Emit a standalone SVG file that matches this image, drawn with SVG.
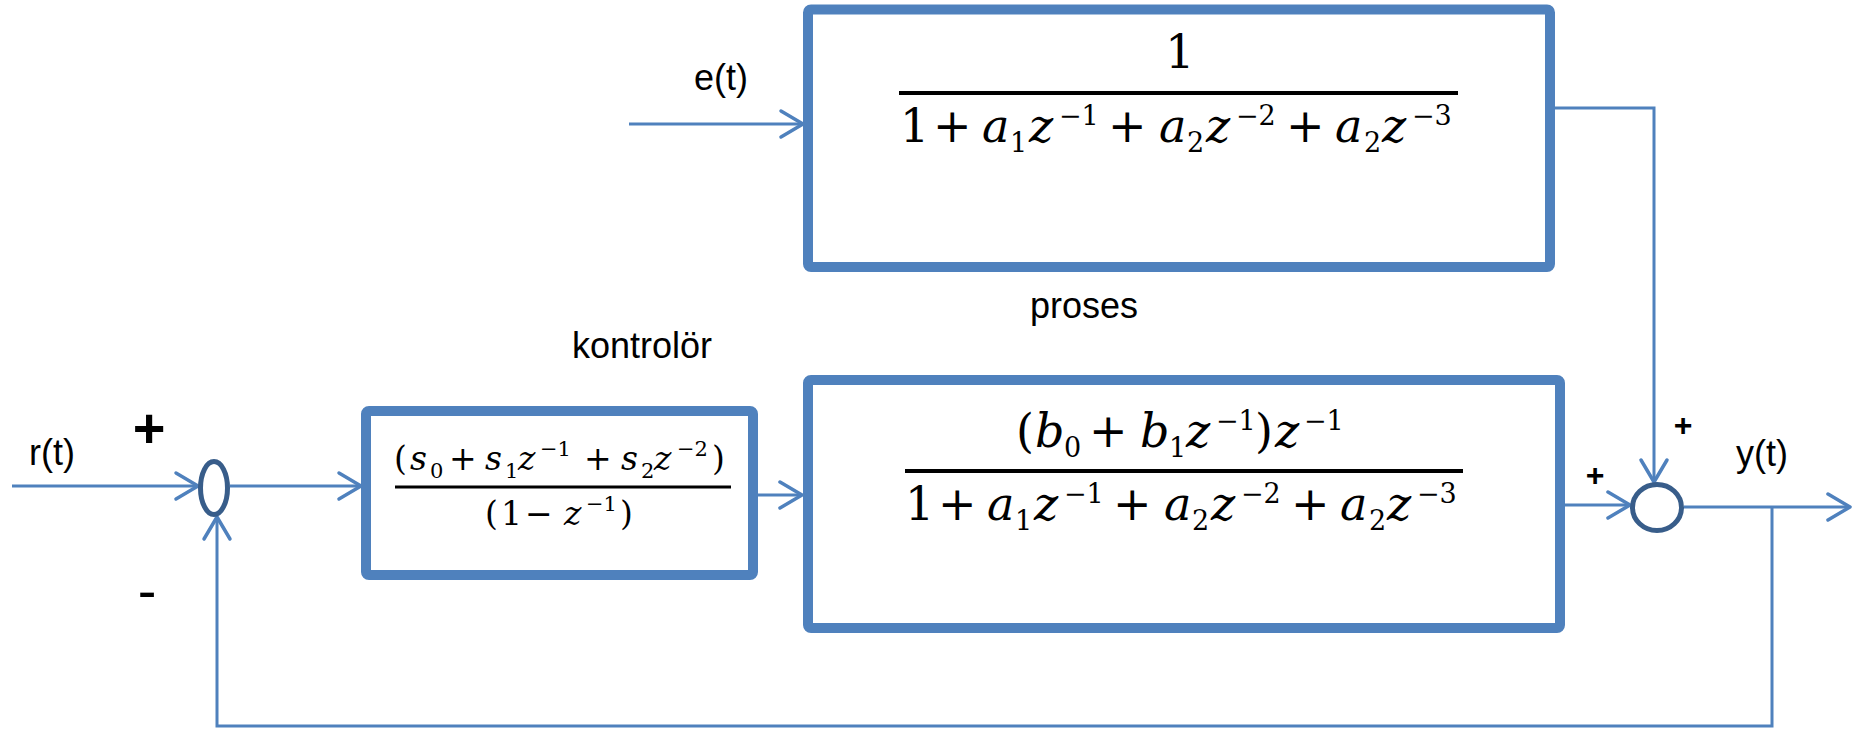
<svg xmlns="http://www.w3.org/2000/svg" width="1855" height="730" viewBox="0 0 1855 730">
<style>
.box{fill:#fff;stroke:#4F81BD;stroke-width:10}
.sum{fill:none;stroke:#385D8A;stroke-width:5}
.con{fill:none;stroke:#4F81BD;stroke-width:3}
.lbl{font-family:"Liberation Sans",Arial,sans-serif;font-size:36px;fill:#000}
.m{font-family:"DejaVu Serif",serif;fill:#000}
.big{font-size:46px}
.sm{font-size:27px}
.cb{font-size:33px}
.cs{font-size:21px}
.i{font-style:italic}
.frac{stroke:#000;stroke-width:4}
</style>
<defs>
<marker id="arr" markerUnits="userSpaceOnUse" markerWidth="40" markerHeight="40" viewBox="-30 -20 40 40" refX="0" refY="0" orient="auto">
<path d="M-22,-13 L0,0 L-22,13" fill="none" stroke="#4F81BD" stroke-width="3.5" stroke-linecap="round" stroke-linejoin="round"/>
</marker>
</defs>
<g id="connectors">
<path class="con" d="M12,486 L198,486" marker-end="url(#arr)"/>
<path class="con" d="M230,486 L361,486" marker-end="url(#arr)"/>
<path class="con" d="M629,124 L803,124" marker-end="url(#arr)"/>
<path class="con" d="M758,495 L802,495" marker-end="url(#arr)"/>
<path class="con" d="M1555,108 L1654,108 L1654,482" marker-end="url(#arr)"/>
<path class="con" d="M1565,505 L1630,505" marker-end="url(#arr)"/>
<path class="con" d="M1684,507 L1850,507" marker-end="url(#arr)"/>
<path class="con" d="M1772,507 L1772,726 L217,726 L217,517" marker-end="url(#arr)"/>
</g>
<g id="sum1"><ellipse class="sum" cx="214" cy="488" rx="13.5" ry="26.5"/></g>
<g id="sum2"><ellipse class="sum" cx="1657" cy="507.5" rx="24.5" ry="23"/></g>
<g id="noise-block">
<rect class="box" x="808" y="9.5" width="742" height="257.5" rx="3"/>
<text class="m big" x="1180" y="68" text-anchor="middle">1</text>
<line class="frac" x1="899" y1="93" x2="1458" y2="93"/>
<text class="m big">
<tspan x="900" y="142">1</tspan><tspan x="933" y="142">+</tspan><tspan class="i" x="982" y="142">a</tspan><tspan class="sm" x="1010" y="152">1</tspan><tspan class="i" x="1029" y="142">z</tspan><tspan class="sm" x="1059" y="125">−1</tspan><tspan x="1108" y="142">+</tspan><tspan class="i" x="1159" y="142">a</tspan><tspan class="sm" x="1187" y="152">2</tspan><tspan class="i" x="1206" y="142">z</tspan><tspan class="sm" x="1236" y="125">−2</tspan><tspan x="1286" y="142">+</tspan><tspan class="i" x="1335" y="142">a</tspan><tspan class="sm" x="1364" y="152">2</tspan><tspan class="i" x="1382" y="142">z</tspan><tspan class="sm" x="1412" y="125">−3</tspan>
</text>
</g>
<g id="process-block">
<rect class="box" x="808" y="380" width="752" height="248" rx="3"/>
<text class="m big">
<tspan x="1016" y="447">(</tspan><tspan class="i" x="1035" y="447">b</tspan><tspan class="sm" x="1064" y="457">0</tspan><tspan x="1089" y="447">+</tspan><tspan class="i" x="1140" y="447">b</tspan><tspan class="sm" x="1169" y="457">1</tspan><tspan class="i" x="1186" y="447">z</tspan><tspan class="sm" x="1216" y="430">−1</tspan><tspan x="1255" y="447">)</tspan><tspan class="i" x="1275" y="447">z</tspan><tspan class="sm" x="1304" y="430">−1</tspan>
</text>
<line class="frac" x1="905" y1="471" x2="1463" y2="471"/>
<text class="m big">
<tspan x="905" y="520">1</tspan><tspan x="938" y="520">+</tspan><tspan class="i" x="987" y="520">a</tspan><tspan class="sm" x="1015" y="530">1</tspan><tspan class="i" x="1034" y="520">z</tspan><tspan class="sm" x="1064" y="503">−1</tspan><tspan x="1113" y="520">+</tspan><tspan class="i" x="1164" y="520">a</tspan><tspan class="sm" x="1192" y="530">2</tspan><tspan class="i" x="1211" y="520">z</tspan><tspan class="sm" x="1241" y="503">−2</tspan><tspan x="1291" y="520">+</tspan><tspan class="i" x="1340" y="520">a</tspan><tspan class="sm" x="1369" y="530">2</tspan><tspan class="i" x="1387" y="520">z</tspan><tspan class="sm" x="1417" y="503">−3</tspan>
</text>
</g>
<g id="controller-block">
<rect class="box" x="366" y="411" width="387" height="164" rx="3"/>
<text class="m cb">
<tspan x="394" y="470">(</tspan><tspan class="i" x="410" y="470">s</tspan><tspan class="cs" x="430" y="478">0</tspan><tspan x="449" y="470">+</tspan><tspan class="i" x="485" y="470">s</tspan><tspan class="cs" x="505" y="478">1</tspan><tspan class="i" x="518" y="470">z</tspan><tspan class="cs" x="540" y="456">−1</tspan><tspan x="584" y="470">+</tspan><tspan class="i" x="621" y="470">s</tspan><tspan class="cs" x="641" y="478">2</tspan><tspan class="i" x="654" y="470">z</tspan><tspan class="cs" x="677" y="456">−2</tspan><tspan x="712" y="470">)</tspan>
</text>
<line x1="395" y1="487" x2="731" y2="487" stroke="#000" stroke-width="3"/>
<text class="m cb">
<tspan x="485" y="525">(</tspan><tspan x="501" y="525">1</tspan><tspan x="525" y="525">−</tspan><tspan class="i" x="564" y="525">z</tspan><tspan class="cs" x="586" y="511">−1</tspan><tspan x="620" y="525">)</tspan>
</text>
</g>
<g id="labels">
<text class="lbl" x="721" y="90" text-anchor="middle">e(t)</text>
<text class="lbl" x="642" y="358" text-anchor="middle">kontrolör</text>
<text class="lbl" x="1084" y="318" text-anchor="middle">proses</text>
<text class="lbl" x="52" y="465" text-anchor="middle">r(t)</text>
<text class="lbl" x="1762" y="466" text-anchor="middle">y(t)</text>
<text class="lbl" x="149" y="447" text-anchor="middle" style="font-size:56px;font-weight:bold">+</text>
<text class="lbl" x="147" y="610" text-anchor="middle" style="font-size:56px">-</text>
<text class="lbl" x="1683" y="436" text-anchor="middle" style="font-size:32px;font-weight:bold">+</text>
<text class="lbl" x="1595" y="486" text-anchor="middle" style="font-size:32px;font-weight:bold">+</text>
</g>
</svg>
